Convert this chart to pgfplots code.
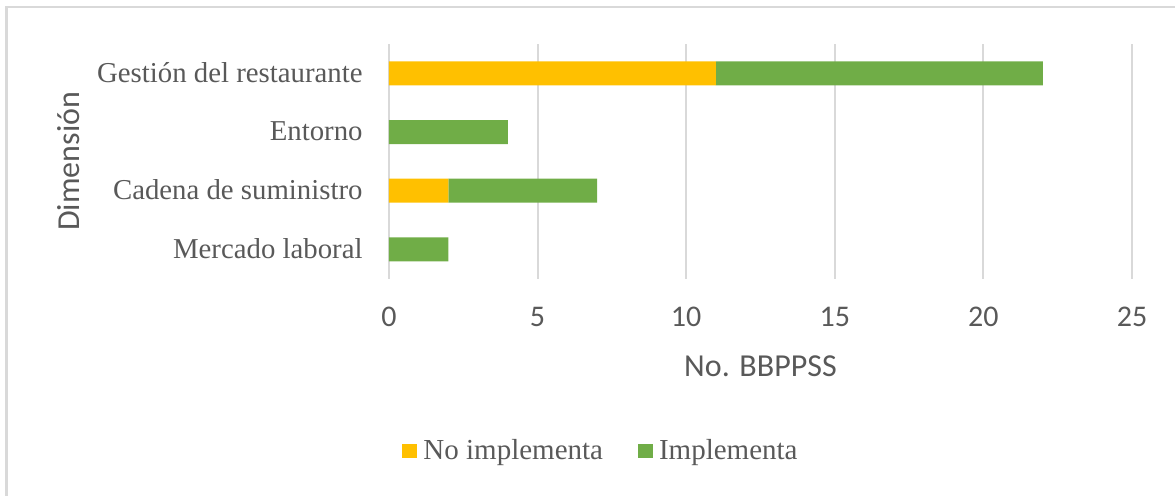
\documentclass[border=0pt]{standalone}
\usepackage{pgfplots}
\pgfplotsset{compat=1.18}
\usepackage{fontspec}
\setmainfont{Liberation Serif}
\newfontfamily\calib{Carlito}

\definecolor{noimp}{HTML}{FFC000}
\definecolor{imp}{HTML}{70AD47}
\definecolor{gridgray}{HTML}{D9D9D9}
\definecolor{txtgray}{HTML}{595959}

\begin{document}
\begin{tikzpicture}
\useasboundingbox (0,0) rectangle (587.5pt,248pt);
% chart frame (only top and left edges are inside the crop)
\draw[gridgray, line width=1.25pt] (3.25pt,0) -- (3.25pt,244.5pt) -- (587.5pt,244.5pt);

\begin{axis}[
    at={(194.5pt,108.65pt)}, anchor=south west,
    width=371.5pt, height=117.35pt, scale only axis,
    xbar stacked, bar width=12pt,
    xmin=0, xmax=25, ymin=-0.5, ymax=3.5,
    enlargelimits=false,
    y dir=reverse,
    xtick={0,5,10,15,20,25},
    ytick={0,1,2,3},
    yticklabels={Gestión del restaurante, Entorno, Cadena de suministro, Mercado laboral},
    axis line style={draw=none},
    major tick length=0pt,
    xmajorgrids, grid style={gridgray, line width=1pt},
    /pgf/number format/assume math mode=true,
    xticklabel style={font=\calib\fontsize{15}{18}\selectfont, text=txtgray,
        anchor=base, inner sep=0pt, yshift=-23.7pt},
    yticklabel style={font=\fontsize{14.4}{17}\selectfont, text=txtgray,
        anchor=base east, inner sep=0pt, xshift=-13pt, yshift=-4.4pt},
    xlabel={No. BBPPSS},
    ylabel={Dimensión},
    every axis x label/.style={at={(axis description cs:0.5,-0.4176)}, anchor=base,
        font=\calib\fontsize{16}{19}\selectfont, text=txtgray},
    every axis y label/.style={at={(axis description cs:-0.4159,0.5)}, rotate=90, anchor=base,
        font=\calib\fontsize{16}{19}\selectfont, text=txtgray},
    legend columns=2,
    legend image code/.code={\fill[#1, draw=none] (0pt,-3.5pt) rectangle (7.5pt,3.5pt);},
    legend style={at={(axis description cs:0.284,-0.734)}, anchor=center,
        draw=none, fill=none, font=\fontsize{14.5}{17}\selectfont, text=txtgray,
        nodes={inner sep=0pt},
        /tikz/every odd column/.append style={column sep=3pt},
        /tikz/every even column/.append style={column sep=17.5pt}},
]
\addplot[fill=noimp, draw=none] coordinates {(11,0) (0,1) (2,2) (0,3)};
\addlegendentry{No implementa}
\addplot[fill=imp, draw=none] coordinates {(11,0) (4,1) (5,2) (2,3)};
\addlegendentry{Implementa}
\end{axis}
\end{tikzpicture}
\end{document}
